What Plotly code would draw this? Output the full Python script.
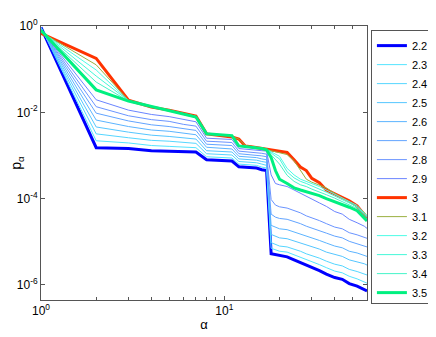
import numpy as np
import plotly.graph_objects as go

# alpha values (x) and log10(p_alpha) for each exponent
alpha = [1, 2, 3, 4, 5, 6, 7, 8, 9, 10, 11, 12, 13, 14, 15, 16, 17,
         18, 19, 20, 22, 24, 26, 28, 30, 33, 36, 40, 44, 48, 53, 58, 60]

labels = ["2.2", "2.3", "2.4", "2.5", "2.6", "2.7", "2.8", "2.9",
          "3", "3.1", "3.2", "3.3", "3.4", "3.5"]

logp_22 = [-0.03, -2.82, -2.84, -2.89, -2.90, -2.91, -2.92, -3.10, -3.11, -3.12, -3.13, -3.26, -3.27, -3.28, -3.29, -3.33, -3.35,
           -5.28, -5.30, -5.33, -5.35, -5.42, -5.48, -5.55, -5.60, -5.67, -5.75, -5.83, -5.87, -5.97, -6.03, -6.10, -6.14]
logp_23 = [-0.03, -2.66, -2.71, -2.77, -2.79, -2.80, -2.82, -3.03, -3.04, -3.05, -3.06, -3.20, -3.21, -3.22, -3.23, -3.27, -3.29,
           -5.15, -5.19, -5.22, -5.24, -5.30, -5.36, -5.42, -5.47, -5.53, -5.60, -5.68, -5.72, -5.80, -5.86, -5.93, -5.96]
logp_24 = [-0.04, -2.50, -2.59, -2.65, -2.67, -2.70, -2.72, -2.96, -2.97, -2.98, -2.99, -3.14, -3.15, -3.16, -3.17, -3.20, -3.23,
           -5.02, -5.07, -5.10, -5.12, -5.17, -5.22, -5.28, -5.32, -5.38, -5.45, -5.52, -5.56, -5.64, -5.69, -5.74, -5.77]
logp_25 = [-0.05, -2.34, -2.46, -2.53, -2.56, -2.59, -2.62, -2.89, -2.90, -2.91, -2.92, -3.08, -3.09, -3.10, -3.11, -3.14, -3.16,
           -4.83, -4.88, -4.91, -4.93, -4.98, -5.03, -5.08, -5.12, -5.17, -5.24, -5.30, -5.34, -5.42, -5.46, -5.51, -5.54]
logp_26 = [-0.06, -2.18, -2.33, -2.41, -2.44, -2.49, -2.52, -2.81, -2.83, -2.84, -2.85, -3.02, -3.03, -3.04, -3.05, -3.08, -3.10,
           -4.62, -4.67, -4.70, -4.72, -4.77, -4.82, -4.87, -4.91, -4.97, -5.03, -5.10, -5.14, -5.22, -5.26, -5.31, -5.34]
logp_27 = [-0.07, -2.02, -2.20, -2.29, -2.33, -2.38, -2.42, -2.74, -2.75, -2.76, -2.77, -2.96, -2.97, -2.98, -2.99, -3.01, -3.03,
           -4.36, -4.43, -4.46, -4.48, -4.53, -4.58, -4.64, -4.68, -4.74, -4.80, -4.87, -4.91, -4.99, -5.04, -5.09, -5.12]
logp_28 = [-0.08, -1.87, -2.08, -2.17, -2.21, -2.28, -2.32, -2.67, -2.68, -2.69, -2.70, -2.90, -2.91, -2.92, -2.93, -2.95, -2.97,
           -4.02, -4.15, -4.19, -4.22, -4.27, -4.33, -4.40, -4.44, -4.51, -4.58, -4.66, -4.70, -4.79, -4.84, -4.89, -4.92]
logp_29 = [-0.09, -1.71, -1.95, -2.05, -2.10, -2.17, -2.22, -2.60, -2.61, -2.62, -2.63, -2.84, -2.85, -2.86, -2.87, -2.89, -2.90,
           -3.45, -3.65, -3.68, -3.72, -3.80, -3.88, -3.95, -4.02, -4.10, -4.18, -4.30, -4.36, -4.48, -4.56, -4.64, -4.69]
logp_30 = [-0.17, -0.75, -1.72, -1.88, -1.95, -2.03, -2.09, -2.50, -2.53, -2.55, -2.57, -2.62, -2.78, -2.80, -2.82, -2.85, -2.87,
           -2.88, -2.90, -2.92, -2.93, -3.10, -3.27, -3.35, -3.53, -3.63, -3.80, -3.89, -3.97, -4.05, -4.17, -4.38, -4.45]
logp_31 = [-0.14, -0.90, -1.72, -1.88, -1.95, -2.03, -2.09, -2.49, -2.52, -2.54, -2.56, -2.62, -2.77, -2.79, -2.81, -2.84, -2.86,
           -2.89, -2.91, -2.93, -2.98, -3.12, -3.35, -3.55, -3.62, -3.68, -3.75, -3.88, -3.98, -4.08, -4.20, -4.32, -4.40]
logp_32 = [-0.13, -1.02, -1.73, -1.87, -1.96, -2.04, -2.10, -2.50, -2.52, -2.53, -2.54, -2.77, -2.79, -2.80, -2.81, -2.83, -2.86,
           -2.92, -2.97, -3.02, -3.30, -3.45, -3.55, -3.60, -3.64, -3.72, -3.80, -3.90, -3.98, -4.06, -4.16, -4.34, -4.40]
logp_33 = [-0.12, -1.16, -1.73, -1.87, -1.96, -2.04, -2.10, -2.50, -2.52, -2.53, -2.54, -2.77, -2.79, -2.80, -2.81, -2.83, -2.86,
           -2.95, -3.02, -3.08, -3.38, -3.52, -3.60, -3.65, -3.70, -3.78, -3.85, -3.94, -4.02, -4.10, -4.19, -4.37, -4.43]
logp_34 = [-0.11, -1.30, -1.74, -1.87, -1.96, -2.05, -2.11, -2.50, -2.52, -2.53, -2.54, -2.78, -2.80, -2.81, -2.82, -2.84, -2.87,
           -2.98, -3.10, -3.20, -3.46, -3.60, -3.68, -3.72, -3.78, -3.84, -3.91, -3.99, -4.07, -4.14, -4.23, -4.40, -4.47]
logp_35 = [-0.10, -1.48, -1.74, -1.87, -1.96, -2.04, -2.11, -2.50, -2.52, -2.53, -2.54, -2.78, -2.80, -2.81, -2.82, -2.84, -2.87,
           -3.05, -3.35, -3.55, -3.65, -3.75, -3.80, -3.84, -3.88, -3.93, -4.00, -4.07, -4.14, -4.20, -4.28, -4.45, -4.52]

series = [logp_22, logp_23, logp_24, logp_25, logp_26, logp_27, logp_28,
          logp_29, logp_30, logp_31, logp_32, logp_33, logp_34, logp_35]

x_tickvals = [1, 10]
x_ticktext = ["10<sup>0</sup>", "10<sup>1</sup>"]
y_tickvals = [1, 1e-2, 1e-4, 1e-6]
y_ticktext = ["10<sup>0</sup>", "10<sup>-2</sup>", "10<sup>-4</sup>", "10<sup>-6</sup>"]

colors = ["#0000ff", "#55e4ff", "#55d6ff", "#55c6ff", "#5cb4ff", "#62a4ff", "#6a94ff",
          "#6a84ff", "#ff3300", "#9ab040", "#4dfce6", "#44f8d8", "#44f4c8", "#00f080"]
widths = [3, 1, 1, 1, 1, 1, 1, 1, 3, 1, 1, 1, 1, 3]

fig = go.Figure()
for lab, lp, c, w in zip(labels, series, colors, widths):
    fig.add_trace(go.Scatter(x=alpha, y=10 ** np.array(lp), mode="lines", name=lab,
                             line=dict(color=c, width=w)))

axis_style = dict(showline=True, linecolor="#555555", linewidth=1, mirror="ticks",
                  ticks="inside", ticklen=4, tickcolor="#555555", showgrid=False,
                  zeroline=False, tickfont=dict(size=12, color="black"))

fig.update_xaxes(type="log", range=[0, np.log10(60)],
                 tickvals=x_tickvals, ticktext=x_ticktext,
                 minor=dict(ticks="inside", ticklen=3, tickcolor="#555555", showgrid=False,
                            tickvals=[2, 3, 4, 5, 6, 7, 8, 9, 20, 30, 40, 50, 60]),
                 title=dict(text="α", font=dict(size=13), standoff=2), **axis_style)
fig.update_yaxes(type="log", range=[-6.35, 0],
                 tickvals=y_tickvals, ticktext=y_ticktext,
                 title=dict(text="p<sub>α</sub>", font=dict(size=14), standoff=11), **axis_style)

# page body adds an 8px offset, so the figure is 8px smaller than the window
fig.update_layout(
    width=428, height=329,
    margin=dict(l=33, r=69, t=18, b=37, autoexpand=False),
    plot_bgcolor="white", paper_bgcolor="white",
    font=dict(family="Liberation Sans, Arial, sans-serif", color="black"),
    legend=dict(x=1.012, y=0.985, xanchor="left", yanchor="top",
                bordercolor="#555555", borderwidth=1, bgcolor="white",
                font=dict(size=11), tracegroupgap=0),
)

fig.write_html("out.html")
